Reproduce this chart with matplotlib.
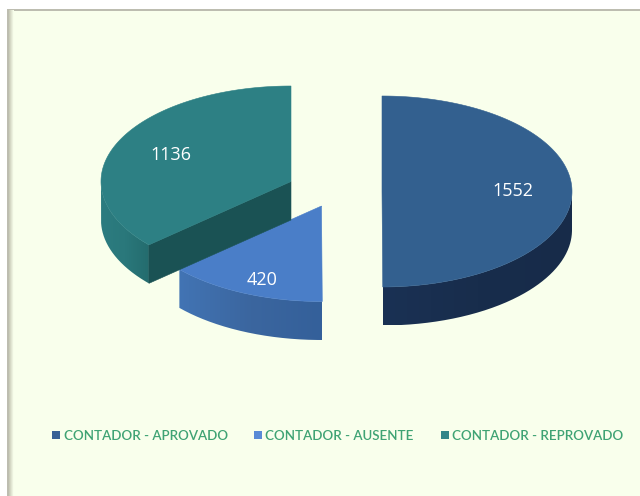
import numpy as np
import matplotlib
matplotlib.use("Agg")
import matplotlib.pyplot as plt
from matplotlib.path import Path
from matplotlib.patches import PathPatch, Rectangle
from matplotlib.colors import LinearSegmentedColormap

categories = ["CONTADOR - APROVADO", "CONTADOR - AUSENTE", "CONTADOR - REPROVADO"]
values = [1552, 420, 1136]
top_colors = ["#33608f", "#4a7ec8", "#2d8084"]
legend_colors = ["#386195", "#5a8bd6", "#33868a"]
wall_colors = [["#1a3154", "#182d4c", "#172b49"],
               ["#4274b4", "#3b669f", "#34609a"],
               ["#2c7c80", "#2a787b", "#246c6e"]]
cut_colors = ["#1c3252", "#34609a", "#1a5254"]
centers = [(382, 191.5), (321.5, 206), (291, 181.5)]
label_pos = [(513, 191), (262, 280), (171, 155)]
legend_box_x = [52, 254, 441]
legend_text_x = [64, 265, 452]
RX, RY, DEPTH = 190, 95.5, 38.5

fig = plt.figure(figsize=(6.4, 4.96), dpi=100, facecolor="#ffffff")
ax = fig.add_axes([0, 0, 1, 1])
ax.set_xlim(0, 640)
ax.set_ylim(496, 0)
ax.axis("off")

ax.add_patch(Rectangle((7, 9), 640, 500, fc="#bdbdb0", ec="none", zorder=0))
ax.add_patch(Rectangle((8.5, 10.5), 640, 500, fc="#f9ffec", ec="none", zorder=0.1))
side = np.linspace(0, 1, 6)[None, :]
ax.imshow(side, extent=(8.5, 13, 510, 10.5), aspect="auto", zorder=0.2,
          cmap=LinearSegmentedColormap.from_list("edge", ["#c9cbb8", "#f9ffec"]))
ax.set_xlim(0, 640)
ax.set_ylim(496, 0)


def pt(center, a):
    return center[0] + RX * np.sin(a), center[1] - RY * np.cos(a)


def arc(center, a0, a1, dy=0.0):
    t = np.linspace(a0, a1, 200)
    x, y = pt(center, t)
    return np.column_stack([x, y + dy])


def poly(verts, color, z):
    ax.add_patch(PathPatch(Path(np.vstack([verts, verts[:1]])), fc=color, ec=color,
                           lw=0.4, zorder=z))


def gradient_wall(verts, colors, z):
    verts = np.vstack([verts, verts[:1]])
    xmin, xmax = verts[:, 0].min(), verts[:, 0].max()
    ymin, ymax = verts[:, 1].min(), verts[:, 1].max()
    cmap = LinearSegmentedColormap.from_list("w", colors)
    im = ax.imshow(np.linspace(0, 1, 256)[None, :], extent=(xmin, xmax, ymax, ymin),
                   aspect="auto", cmap=cmap, zorder=z, interpolation="bilinear")
    im.set_clip_path(PathPatch(Path(verts), transform=ax.transData))
    ax.set_xlim(0, 640)
    ax.set_ylim(496, 0)


total = sum(values)
start = 0.0
for i, v in enumerate(values):
    sweep = 2 * np.pi * v / total
    a0, a1 = start, start + sweep
    start = a1
    c = centers[i]
    z = 2 + i
    # front (outer) wall: visible part of the rim, on the lower half of the ellipse
    v0, v1 = max(a0, np.pi / 2), min(a1, 3 * np.pi / 2)
    outer = np.vstack([arc(c, v0, v1), arc(c, v1, v0, DEPTH)])
    gradient_wall(outer, wall_colors[i], z)
    # cut face: the radial face turned towards the viewer
    if i == 2:
        e = np.array(pt(c, a0))
        face = np.array([c, e, e + [0, DEPTH], np.array(c) + [0, DEPTH]])
        poly(face, cut_colors[i], z + 0.1)
    # top surface
    top = np.vstack([[c], arc(c, a0, a1)])
    poly(top, top_colors[i], z + 0.2)
    ax.text(label_pos[i][0], label_pos[i][1], str(v), color="white", fontsize=13,
            family="Open Sans", ha="center", va="center", zorder=10)

for i, name in enumerate(categories):
    ax.add_patch(Rectangle((legend_box_x[i], 431), 8, 8, fc=legend_colors[i], ec="none", zorder=5))
    ax.text(legend_text_x[i], 435.5, name, color="#3fa374", fontsize=9.6, family="Lato",
            fontweight="semibold", ha="left", va="center", zorder=5)

fig.savefig("out.png", dpi=100, facecolor=fig.get_facecolor())
